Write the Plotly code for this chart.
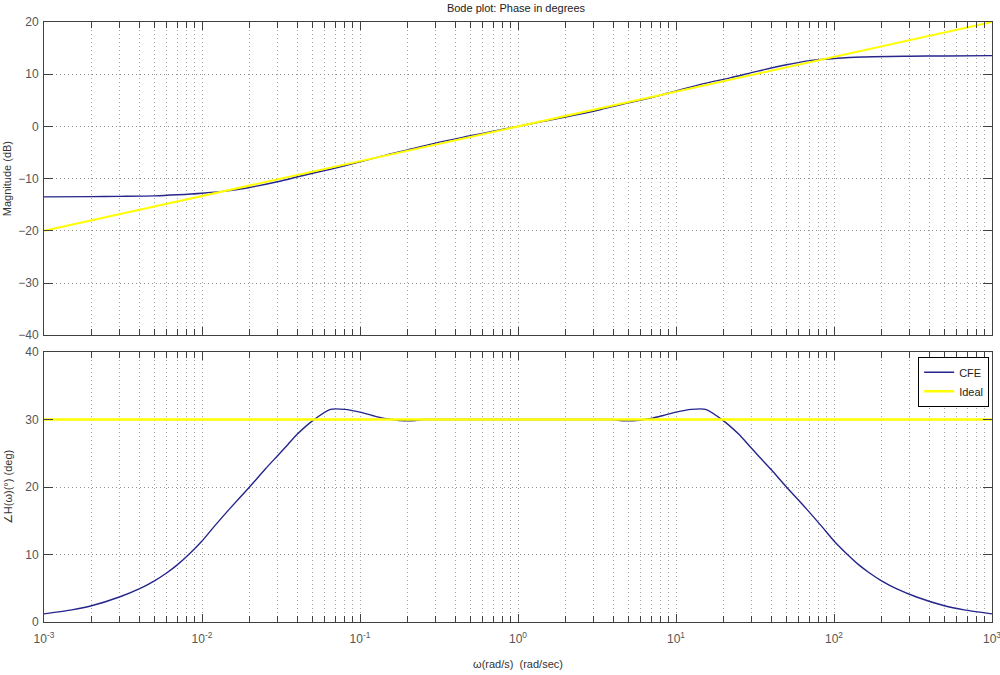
import plotly.graph_objects as go
from plotly.subplots import make_subplots

# Frequency grid (rad/s) and CFE approximation response
freq_mag = [1e-3, 2e-3, 3e-3, 5e-3, 7e-3, 1e-2, 1.5e-2, 2e-2, 3e-2, 4.5e-2, 6.5e-2,
            0.1, 0.15, 0.2, 0.3, 0.5, 0.7, 1.0, 1.4, 2.0, 3.3, 5.0, 6.7, 10.0,
            15.0, 22.0, 33.0, 50.0, 70.0, 100.0, 150.0, 300.0, 500.0, 1000.0]
cfe_mag_db = [-13.5, -13.45, -13.4, -13.3, -13.1, -12.8, -12.3, -11.7, -10.6, -9.3, -8.2,
              -6.8, -5.4, -4.5, -3.2, -1.8, -0.9, 0.0, 0.9, 1.8, 3.2, 4.5, 5.4, 6.8,
              8.2, 9.3, 10.6, 11.8, 12.6, 13.0, 13.3, 13.45, 13.5, 13.55]

freq_phase = [1e-3, 1.5e-3, 2e-3, 3e-3, 4e-3, 5e-3, 6e-3, 7e-3, 8.5e-3, 1e-2, 1.2e-2,
              1.5e-2, 2e-2, 2.5e-2, 3e-2, 3.5e-2, 4e-2, 5e-2, 6.5e-2, 8e-2, 0.1, 0.12,
              0.14, 0.16, 0.18, 0.2, 0.225, 0.25, 0.3, 0.5, 1.0, 2.0, 3.3, 4.0, 4.4,
              5.0, 5.6, 6.3, 7.1, 8.3, 10.0, 12.5, 15.4, 20.0, 25.0, 28.6, 33.3, 40.0,
              50.0, 66.7, 83.3, 100.0, 118.0, 143.0, 167.0, 200.0, 250.0, 333.0, 500.0,
              667.0, 1000.0]
cfe_phase_deg = [1.2, 1.8, 2.4, 3.7, 4.9, 6.1, 7.3, 8.5, 10.3, 12.0, 14.2,
                 16.8, 20.0, 22.6, 24.6, 26.3, 27.8, 29.8, 31.5, 31.5, 31.1, 30.6,
                 30.2, 30.0, 29.85, 29.8, 29.85, 30.0, 30.0, 30.0, 30.0, 30.0, 30.0, 30.0, 29.85,
                 29.8, 29.85, 30.0, 30.2, 30.6, 31.1, 31.5, 31.5, 29.8, 27.8, 26.3, 24.6, 22.6,
                 20.0, 16.8, 14.2, 12.0, 10.3, 8.5, 7.3, 6.1, 4.9, 3.7, 2.4,
                 1.8, 1.2]

# Ideal fractional-order operator s^(1/3)
freq_ideal = [1e-3, 1e3]
ideal_mag_db = [-20.0, 20.0]
ideal_phase_deg = [30.0, 30.0]

x_tickvals = [1e-3, 1e-2, 1e-1, 1, 10, 100, 1000]
x_ticktext = ["10<sup>-3</sup>", "10<sup>-2</sup>", "10<sup>-1</sup>", "10<sup>0</sup>",
              "10<sup>1</sup>", "10<sup>2</sup>", "10<sup>3</sup>"]
x_minor_vals = [m * 10.0 ** e for e in range(-3, 3) for m in range(2, 10)]
mag_ticks = [-40, -30, -20, -10, 0, 10, 20]
phase_ticks = [0, 10, 20, 30, 40]

CFE_COLOR = "#25258c"
IDEAL_COLOR = "#ffff00"
AXIS_COLOR = "#404040"
GRID_COLOR = "#a4a4a4"
GRID_DASH = "1px,3px"
FONT = "Liberation Sans, Arial, sans-serif"

fig = make_subplots(rows=2, cols=1, shared_xaxes=False, vertical_spacing=0.0)

fig.add_trace(go.Scatter(x=freq_mag, y=cfe_mag_db, mode="lines", name="CFE",
                         line=dict(color=CFE_COLOR, width=1.4, shape="spline", smoothing=0.8),
                         showlegend=False), row=1, col=1)
fig.add_trace(go.Scatter(x=freq_ideal, y=ideal_mag_db, mode="lines", name="Ideal",
                         line=dict(color=IDEAL_COLOR, width=2.0),
                         showlegend=False), row=1, col=1)
fig.add_trace(go.Scatter(x=freq_phase, y=cfe_phase_deg, mode="lines", name="CFE",
                         line=dict(color=CFE_COLOR, width=1.4, shape="spline", smoothing=0.6)),
              row=2, col=1)
fig.add_trace(go.Scatter(x=freq_ideal, y=ideal_phase_deg, mode="lines", name="Ideal",
                         line=dict(color=IDEAL_COLOR, width=2.4)),
              row=2, col=1)

tick_font = dict(family=FONT, size=12, color="#555555")
common_x = dict(
    type="log", range=[-3, 3.00001], tickmode="array", tickvals=x_tickvals, ticktext=x_ticktext,
    ticks="inside", ticklen=8, tickcolor=AXIS_COLOR, showline=True, linecolor=AXIS_COLOR,
    linewidth=1, mirror="allticks", showgrid=True, gridcolor=GRID_COLOR, griddash=GRID_DASH,
    gridwidth=1, zeroline=False, ticklabelstandoff=6, ticklabeloverflow="allow",
    automargin=False,
    minor=dict(tickmode="array", tickvals=x_minor_vals, ticks="inside", ticklen=6,
               tickcolor=AXIS_COLOR, showgrid=True, gridcolor=GRID_COLOR,
               griddash=GRID_DASH, gridwidth=1),
    tickfont=tick_font,
)
common_y = dict(
    ticks="inside", ticklen=9, tickcolor=AXIS_COLOR, showline=True, linecolor=AXIS_COLOR,
    linewidth=1, mirror="allticks", showgrid=True, gridcolor="#909090", griddash=GRID_DASH,
    gridwidth=1, zeroline=False, tickfont=tick_font, ticklabelstandoff=2,
)

fig.update_xaxes(**common_x)
fig.update_xaxes(showticklabels=False, row=1, col=1)
fig.update_xaxes(title=dict(text="ω(rad/s)  (rad/sec)", font=dict(family=FONT, size=11, color="#333333"),
                            standoff=14), row=2, col=1)

fig.update_yaxes(**common_y)
fig.update_yaxes(range=[-40, 20], tickvals=mag_ticks, domain=[0.478, 1.0],
                 title=dict(text="Magnitude (dB)", font=dict(family=FONT, size=11, color="#333333"),
                            standoff=4), row=1, col=1)
fig.update_yaxes(range=[0, 40], tickvals=phase_ticks, domain=[0.0, 0.45],
                 title=dict(text="∠H(ω)(°) (deg)", font=dict(family=FONT, size=11, color="#333333"),
                            standoff=10), row=2, col=1)

fig.update_layout(
    width=1000, height=675,
    margin=dict(l=39, r=7, t=22, b=53),
    paper_bgcolor="white", plot_bgcolor="white",
    font=dict(family=FONT, size=11, color="#333333"),
    title=dict(text="Bode plot: Phase in degrees", x=0.516, xanchor="center", y=0.988,
               yanchor="middle", font=dict(family=FONT, size=11, color="#222222")),
    legend=dict(x=0.997, y=0.442, xanchor="right", yanchor="top",
                bgcolor="white", bordercolor="#000000", borderwidth=1,
                font=dict(family=FONT, size=11, color="#222222"),
                tracegroupgap=0),
)

fig.write_html("out.html")
